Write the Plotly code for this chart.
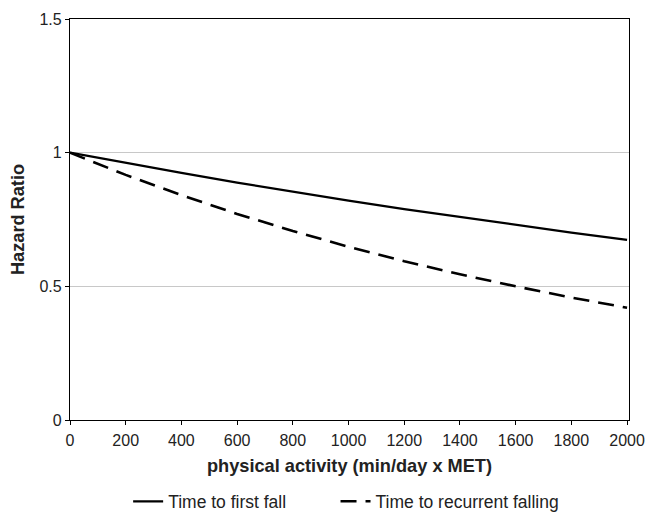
import plotly.graph_objects as go

activity = [0, 200, 400, 600, 800, 1000, 1200, 1400, 1600, 1800, 2000]
hr_first_fall = [1.0, 0.961, 0.924, 0.888, 0.854, 0.821, 0.789, 0.759, 0.729, 0.701, 0.674]
hr_recurrent = [1.0, 0.917, 0.841, 0.771, 0.707, 0.648, 0.594, 0.545, 0.500, 0.458, 0.420]
x_ticks = [0, 200, 400, 600, 800, 1000, 1200, 1400, 1600, 1800, 2000]
y_ticks = [0, 0.5, 1, 1.5]
y_tick_labels = ["0", "0.5", "1", "1.5"]

fig = go.Figure()
fig.add_trace(go.Scatter(x=activity, y=hr_first_fall, mode="lines", name="Time to first fall",
                         line=dict(color="black", width=2.3), legend="legend"))
fig.add_trace(go.Scatter(x=activity, y=hr_recurrent, mode="lines", name="Time to recurrent falling",
                         line=dict(color="black", width=2.6, dash="16px,9px"), legend="legend2"))

font = "Liberation Sans, Arial, sans-serif"
legend_common = dict(orientation="h", xanchor="left", y=-0.203, yanchor="middle",
                     font=dict(size=17.5, color="#222"), bgcolor="rgba(0,0,0,0)")
fig.update_layout(
    width=646, height=512,
    margin=dict(l=70, r=17, t=19, b=91.5, autoexpand=False),
    paper_bgcolor="white", plot_bgcolor="white",
    font=dict(family=font, size=16, color="#222"),
    showlegend=True,
    legend=dict(x=0.104, **legend_common),
    legend2=dict(x=0.475, **legend_common),
    xaxis=dict(range=[0, 2007], tickvals=x_ticks, showgrid=False, zeroline=False,
               showline=True, linecolor="black", linewidth=1.2, mirror=True,
               ticks="outside", ticklen=4, tickcolor="black", automargin=False,
               tickfont=dict(size=16), ticklabelstandoff=2,
               title=dict(text="<b>physical activity (min/day x MET)</b>", font=dict(size=18.2, color="#222"), standoff=10)),
    yaxis=dict(range=[0, 1.5], tickvals=y_ticks, ticktext=y_tick_labels,
               showgrid=True, gridcolor="#c8c8c8", gridwidth=1, zeroline=False,
               showline=True, linecolor="black", linewidth=1.2, mirror=True,
               ticks="outside", ticklen=4, tickcolor="black", automargin=False,
               tickfont=dict(size=16),
               title=dict(text="<b>Hazard Ratio</b>", font=dict(size=18.2, color="#222"), standoff=10)),
)
fig.write_html("out.html", config={"displayModeBar": False},
               post_script="document.body.style.margin='0';document.body.style.overflow='hidden';")
